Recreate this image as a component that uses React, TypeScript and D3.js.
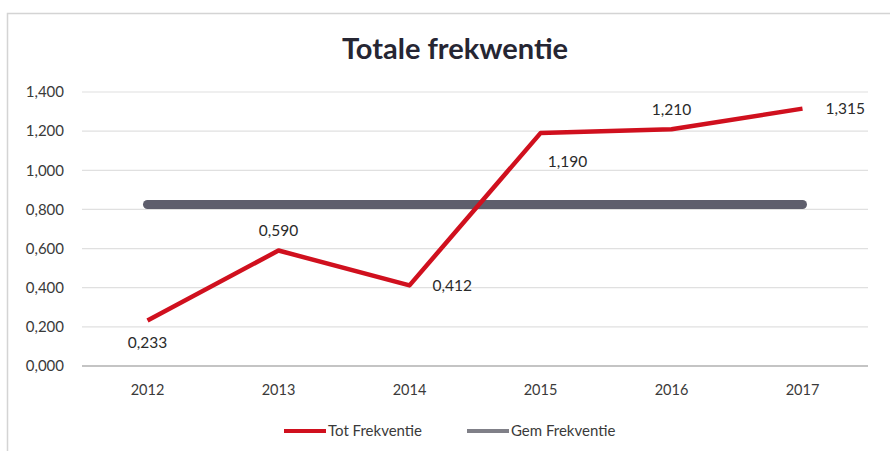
import { useEffect, useRef } from "react";
import * as d3 from "d3";

const years = ["2012", "2013", "2014", "2015", "2016", "2017"];
const totFrekventie = [0.233, 0.59, 0.412, 1.19, 1.21, 1.315];
const gemFrekventie = [0.825, 0.825, 0.825, 0.825, 0.825, 0.825];
const yTicks = [0, 0.2, 0.4, 0.6, 0.8, 1.0, 1.2, 1.4];
// where each data label sits relative to its point
const labelPos = ["below", "above", "right", "belowRight", "above", "right"];

const fmt = (v: number) => v.toFixed(3).replace(".", ",");

export default function App() {
  const svgRef = useRef<SVGSVGElement>(null);

  useEffect(() => {
    if (!svgRef.current) return;
    const width = 890;
    const height = 451;
    const margin = { top: 92, right: 22, bottom: 85, left: 82 };

    const svg = d3.select(svgRef.current);
    svg.selectAll("*").remove();

    const font = "Lato, 'Open Sans', sans-serif";

    // chart frame
    svg.append("path")
      .attr("d", `M7.5,${height} L7.5,13.5 L${width},13.5`)
      .attr("fill", "none")
      .attr("stroke", "#d4d4d4")
      .attr("stroke-width", 1.5);

    svg.append("text")
      .attr("x", 455)
      .attr("y", 59)
      .attr("text-anchor", "middle")
      .attr("font-family", font)
      .attr("font-weight", 700)
      .attr("font-size", 29)
      .attr("fill", "#262633")
      .text("Totale frekwentie");

    const x = d3.scalePoint<string>()
      .domain(years)
      .range([margin.left, width - margin.right])
      .padding(0.5);
    const y = d3.scaleLinear()
      .domain([0, 1.4])
      .range([height - margin.bottom, margin.top]);

    const grid = svg.append("g");
    yTicks.forEach((t) => {
      grid.append("line")
        .attr("x1", margin.left)
        .attr("x2", width - margin.right)
        .attr("y1", y(t))
        .attr("y2", y(t))
        .attr("stroke", t === 0 ? "#c4c4c4" : "#e0e0e0")
        .attr("stroke-width", t === 0 ? 2 : 1.2);
      grid.append("text")
        .attr("x", 64)
        .attr("y", y(t))
        .attr("dy", "0.35em")
        .attr("text-anchor", "end")
        .attr("font-family", font)
        .attr("font-size", 15)
        .attr("fill", "#3a3a3a")
        .text(fmt(t));
    });

    years.forEach((yr) => {
      svg.append("text")
        .attr("x", x(yr)!)
        .attr("y", 390)
        .attr("dy", "0.35em")
        .attr("text-anchor", "middle")
        .attr("font-family", font)
        .attr("font-size", 14.5)
        .attr("fill", "#3a3a3a")
        .text(yr);
    });

    const line = d3.line<number>()
      .x((_, i) => x(years[i])!)
      .y((d) => y(d));

    svg.append("path")
      .datum(gemFrekventie)
      .attr("d", line)
      .attr("fill", "none")
      .attr("stroke", "#5e5e6c")
      .attr("stroke-width", 9)
      .attr("stroke-linecap", "round");

    svg.append("path")
      .datum(totFrekventie)
      .attr("d", line)
      .attr("fill", "none")
      .attr("stroke", "#d0101e")
      .attr("stroke-width", 4.5)
      .attr("stroke-linejoin", "round");

    totFrekventie.forEach((v, i) => {
      const px = x(years[i])!;
      const py = y(v);
      let lx = px;
      let ly = py;
      let anchor = "middle";
      const pos = labelPos[i];
      if (pos === "below") ly = py + 22;
      else if (pos === "above") ly = py - 20;
      else if (pos === "right") { lx = px + 23; anchor = "start"; }
      else if (pos === "belowRight") { lx = px + 27; ly = py + 28; anchor = "middle"; }
      svg.append("text")
        .attr("x", lx)
        .attr("y", ly)
        .attr("dy", "0.35em")
        .attr("text-anchor", anchor)
        .attr("font-family", font)
        .attr("font-size", 15.5)
        .attr("fill", "#2a2a2a")
        .text(fmt(v));
    });

    // legend
    const legend = [
      { name: "Tot Frekventie", color: "#d0101e", w: 4, x0: 284 },
      { name: "Gem Frekventie", color: "#808088", w: 4, x0: 467 },
    ];
    legend.forEach((l) => {
      svg.append("line")
        .attr("x1", l.x0)
        .attr("x2", l.x0 + 42)
        .attr("y1", 431)
        .attr("y2", 431)
        .attr("stroke", l.color)
        .attr("stroke-width", l.w);
      svg.append("text")
        .attr("x", l.x0 + 44)
        .attr("y", 431)
        .attr("dy", "0.35em")
        .attr("font-family", font)
        .attr("font-size", 15)
        .attr("fill", "#3a3a3a")
        .text(l.name);
    });
  }, []);

  return (
    <svg
      ref={svgRef}
      width={890}
      height={451}
      style={{ position: "absolute", left: 0, top: 0, background: "#fff" }}
    />
  );
}
